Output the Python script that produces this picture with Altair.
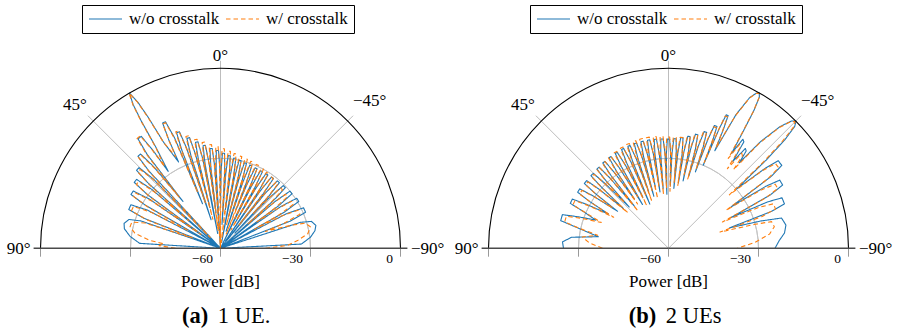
import altair as alt
import pandas as pd

BLUE = "#1f77b4"
ORANGE = "#ff7f0e"
SERIES = ["w/o crosstalk", "w/ crosstalk"]
FONT = "'Liberation Serif', 'DejaVu Serif', 'Times New Roman', serif"

# ---------- beam patterns: (angle in deg, power in dB) ----------
# (a) 1 UE, w/o crosstalk
A_WO = [
    (90.0, -70.0),
    (86.5, -33.0), (82.5, -29.6), (78.5, -27.3), (75.5, -26.8), (72.5, -28.0), (71.0, -32.0),
    (69.6, -62.0),
    (68.6, -32.5), (67.1, -26.8), (64.1, -26.8), (62.4, -32.5),
    (61.0, -60.0),
    (60.2, -31.2), (59.0, -25.2), (56.7, -25.2), (55.3, -31.2),
    (54.3, -64.0),
    (53.7, -29.8), (52.6, -23.8), (50.6, -23.8), (49.4, -29.8),
    (48.6, -58.0),
    (48.0, -27.8), (47.1, -21.8), (45.3, -21.8), (44.1, -27.8),
    (43.4, -66.0),
    (42.8, -24.8), (41.9, -18.8), (40.3, -18.8), (39.3, -24.8),
    (38.7, -40.0),
    (38.0, -20.3), (37.0, -14.3), (35.3, -14.3), (34.6, -20.3),
    (34.2, -29.0),
    (32.6, -20.0), (31.9, -10.0), (31.3, -4.0), (30.4, 0.0), (29.5, -4.0), (28.9, -10.0), (28.2, -20.0),
    (25.9, -28.0),
    (25.5, -20.0), (24.8, -14.0), (23.5, -14.0), (22.6, -20.0),
    (22.0, -44.0),
    (21.5, -24.8), (20.8, -18.8), (19.4, -18.8), (18.7, -24.8),
    (18.2, -50.0),
    (17.7, -27.7), (17.0, -21.7), (15.6, -21.7), (14.9, -27.7),
    (14.5, -46.0),
    (14.0, -29.7), (13.25, -23.7), (11.95, -23.7), (11.2, -29.7),
    (10.8, -55.0),
    (10.35, -31.3), (9.65, -25.3), (8.35, -25.3), (7.65, -31.3),
    (7.2, -48.0),
    (6.75, -32.6), (6.05, -26.6), (4.75, -26.6), (4.05, -32.6),
    (3.6, -60.0),
    (3.15, -33.4), (2.45, -27.4), (1.15, -27.4), (0.45, -33.4),
    (0.0, -45.0),
    (-0.45, -34.3), (-1.15, -28.3), (-2.45, -28.3), (-3.15, -34.3),
    (-3.6, -52.0),
    (-4.05, -35.0), (-4.75, -29.0), (-6.05, -29.0), (-6.75, -35.0),
    (-7.2, -47.0),
    (-7.65, -35.6), (-8.35, -29.6), (-9.65, -29.6), (-10.35, -35.6),
    (-10.8, -58.0),
    (-11.2, -36.0), (-11.95, -30.0), (-13.25, -30.0), (-14.0, -36.0),
    (-14.5, -49.0),
    (-14.9, -36.4), (-15.6, -30.4), (-17.0, -30.4), (-17.7, -36.4),
    (-18.2, -54.0),
    (-18.7, -36.6), (-19.4, -30.6), (-20.8, -30.6), (-21.5, -36.6),
    (-22.0, -46.0),
    (-22.5, -36.8), (-23.3, -30.8), (-24.7, -30.8), (-25.5, -36.8),
    (-25.9, -62.0),
    (-26.5, -36.9), (-27.3, -30.9), (-28.7, -30.9), (-29.5, -36.9),
    (-30.0, -50.0),
    (-30.5, -36.9), (-31.35, -30.9), (-32.85, -30.9), (-33.7, -36.9),
    (-34.2, -57.0),
    (-34.7, -36.8), (-35.6, -30.8), (-37.2, -30.8), (-38.1, -36.8),
    (-38.7, -65.0),
    (-39.1, -36.6), (-40.1, -30.6), (-41.9, -30.6), (-42.9, -36.6),
    (-43.4, -53.0),
    (-44.0, -36.4), (-45.05, -30.4), (-46.95, -30.4), (-48.0, -36.4),
    (-48.6, -66.0),
    (-49.4, -36.0), (-50.55, -30.0), (-52.65, -30.0), (-53.8, -36.0),
    (-54.3, -60.0),
    (-55.3, -35.6), (-56.7, -29.6), (-59.1, -29.6), (-60.5, -35.6),
    (-61.0, -68.0),
    (-62.3, -35.2), (-64.0, -29.2), (-67.0, -29.2), (-68.7, -35.2),
    (-69.6, -63.0),
    (-72.0, -32.0), (-73.5, -28.4), (-76.5, -27.3), (-79.5, -28.0), (-83.0, -29.8), (-87.0, -33.0),
    (-90.0, -70.0),
]

# (a) 1 UE, w/ crosstalk
A_W = [
    (90.0, -45.0), (87.5, -39.5), (85.5, -41.0),
    (83.5, -36.0), (80.0, -31.0), (76.5, -29.0), (73.5, -29.2), (71.5, -33.5),
    (69.8, -50.0),
    (68.8, -33.8), (67.3, -27.8), (64.3, -27.8), (62.6, -33.8),
    (61.2, -48.0),
    (60.4, -32.2), (59.2, -26.2), (56.9, -26.2), (55.5, -32.2),
    (54.5, -52.0),
    (53.9, -30.8), (52.8, -24.8), (50.8, -24.8), (49.6, -30.8),
    (48.8, -46.0),
    (48.2, -28.5), (47.3, -22.5), (45.5, -22.5), (44.3, -28.5),
    (43.6, -55.0),
    (43.0, -25.2), (42.1, -19.2), (40.5, -19.2), (39.5, -25.2),
    (38.9, -38.0),
    (38.2, -20.0), (37.2, -14.0), (35.5, -14.0), (34.8, -20.0),
    (34.4, -27.0),
    (32.7, -20.0), (32.0, -10.0), (31.4, -4.0), (30.5, 0.0), (29.6, -4.0), (29.0, -10.0), (28.3, -20.0),
    (26.0, -26.0),
    (25.6, -20.3), (24.9, -14.3), (23.6, -14.3), (22.8, -20.3),
    (22.2, -40.0),
    (21.7, -24.4), (21.0, -18.4), (19.6, -18.4), (18.9, -24.4),
    (18.4, -44.0),
    (17.9, -27.0), (17.2, -21.0), (15.8, -21.0), (15.1, -27.0),
    (14.7, -50.0),
    (14.2, -28.8), (13.45, -22.8), (12.15, -22.8), (11.4, -28.8),
    (11.0, -42.0),
    (10.55, -30.2), (9.85, -24.2), (8.55, -24.2), (7.85, -30.2),
    (7.4, -54.0),
    (6.95, -31.3), (6.25, -25.3), (4.95, -25.3), (4.25, -31.3),
    (3.8, -62.0),
    (3.35, -32.1), (2.65, -26.1), (1.35, -26.1), (0.65, -32.1),
    (0.2, -64.0),
    (-0.25, -32.8), (-0.95, -26.8), (-2.25, -26.8), (-2.95, -32.8),
    (-3.4, -48.0),
    (-3.85, -33.5), (-4.55, -27.5), (-5.85, -27.5), (-6.55, -33.5),
    (-7.0, -58.0),
    (-7.45, -34.1), (-8.15, -28.1), (-9.45, -28.1), (-10.15, -34.1),
    (-10.6, -45.0),
    (-11.0, -34.6), (-11.75, -28.6), (-13.05, -28.6), (-13.8, -34.6),
    (-14.3, -52.0),
    (-14.7, -35.0), (-15.4, -29.0), (-16.8, -29.0), (-17.5, -35.0),
    (-18.0, -47.0),
    (-18.5, -35.3), (-19.2, -29.3), (-20.6, -29.3), (-21.3, -35.3),
    (-21.8, -55.0),
    (-22.3, -35.6), (-23.1, -29.6), (-24.5, -29.6), (-25.3, -35.6),
    (-25.7, -49.0),
    (-26.3, -36.0), (-27.1, -30.0), (-28.5, -30.0), (-29.3, -36.0),
    (-29.8, -53.0),
    (-30.3, -36.4), (-31.15, -30.4), (-32.65, -30.4), (-33.5, -36.4),
    (-34.0, -46.0),
    (-34.5, -36.8), (-35.4, -30.8), (-37.0, -30.8), (-37.9, -36.8),
    (-38.5, -50.0),
    (-38.9, -37.2), (-39.9, -31.2), (-41.7, -31.2), (-42.7, -37.2),
    (-43.2, -44.0),
    (-43.8, -37.6), (-44.85, -31.6), (-46.75, -31.6), (-47.8, -37.6),
    (-48.4, -48.0),
    (-49.2, -37.8), (-50.35, -31.8), (-52.45, -31.8), (-53.6, -37.8),
    (-54.1, -45.0),
    (-55.1, -37.6), (-56.5, -31.6), (-58.9, -31.6), (-60.3, -37.6),
    (-60.8, -47.0),
    (-62.1, -37.2), (-63.8, -31.2), (-66.8, -31.2), (-68.5, -37.2),
    (-69.4, -44.0),
    (-72.0, -35.0), (-73.5, -30.5), (-76.5, -29.2), (-80.5, -30.5), (-84.0, -34.0), (-87.5, -37.5),
    (-90.0, -45.0),
]

# (b) 2 UEs, w/o crosstalk
B_WO = [
    (90.0, -25.0), (86.5, -24.6), (83.5, -27.5),
    (80.6, -36.3),
    (77.0, -28.0), (75.6, -22.9), (72.4, -22.9), (70.8, -28.0),
    (68.8, -34.0),
    (66.6, -29.0), (65.4, -24.0), (62.9, -24.0), (61.8, -29.0),
    (60.3, -37.0),
    (59.3, -29.4), (58.3, -24.4), (56.2, -24.4), (55.2, -29.4),
    (54.0, -39.0),
    (53.2, -29.6), (52.4, -24.6), (50.4, -24.6), (49.6, -29.6),
    (48.6, -40.0),
    (47.6, -29.6), (46.9, -24.6), (45.1, -24.6), (44.4, -29.6),
    (43.6, -41.0),
    (42.8, -29.4), (42.1, -24.4), (40.5, -24.4), (39.8, -29.4),
    (39.0, -42.0),
    (38.3, -29.1), (37.6, -24.1), (36.2, -24.1), (35.5, -29.1),
    (34.7, -40.0),
    (34.0, -28.9), (33.3, -23.9), (32.1, -23.9), (31.4, -28.9),
    (30.7, -43.0),
    (30.0, -28.7), (29.3, -23.7), (28.1, -23.7), (27.4, -28.7),
    (26.7, -41.0),
    (26.1, -28.5), (25.4, -23.5), (24.2, -23.5), (23.5, -28.5),
    (22.9, -44.0),
    (22.4, -28.4), (21.7, -23.4), (20.5, -23.4), (19.8, -28.4),
    (19.3, -40.0),
    (18.8, -28.3), (18.1, -23.3), (16.9, -23.3), (16.2, -28.3),
    (15.7, -42.0),
    (15.2, -28.3), (14.5, -23.3), (13.3, -23.3), (12.6, -28.3),
    (12.1, -39.0),
    (11.7, -28.3), (11.0, -23.3), (9.8, -23.3), (9.1, -28.3),
    (8.6, -41.0),
    (8.2, -28.4), (7.5, -23.4), (6.3, -23.4), (5.6, -28.4),
    (5.1, -40.0),
    (4.7, -28.5), (4.0, -23.5), (2.8, -23.5), (2.1, -28.5),
    (1.7, -42.0),
    (1.3, -28.6), (0.6, -23.6), (-0.6, -23.6), (-1.3, -28.6),
    (-1.7, -39.0),
    (-2.1, -28.4), (-2.8, -23.4), (-4.0, -23.4), (-4.7, -28.4),
    (-5.1, -40.0),
    (-5.6, -27.9), (-6.3, -22.9), (-7.5, -22.9), (-8.2, -27.9),
    (-8.6, -38.0),
    (-9.1, -27.1), (-9.8, -22.1), (-11.0, -22.1), (-11.7, -27.1),
    (-12.2, -37.0),
    (-12.6, -25.9), (-13.3, -20.9), (-14.5, -20.9), (-15.2, -25.9),
    (-15.7, -35.0),
    (-16.3, -24.3), (-17.0, -19.3), (-18.2, -19.3), (-18.9, -24.3),
    (-19.4, -33.0),
    (-19.9, -21.3), (-20.5, -16.3), (-21.7, -16.3), (-22.3, -21.3),
    (-22.7, -30.0),
    (-23.0, -16.5), (-23.4, -11.5), (-24.2, -11.5), (-24.8, -16.5),
    (-25.4, -24.0),
    (-26.8, -10.0), (-28.3, -3.0), (-29.5, -0.6), (-30.3, 0.0), (-31.0, -1.2), (-31.8, -6.0), (-32.6, -14.0),
    (-33.6, -22.0),
    (-34.3, -16.0), (-35.3, -16.5),
    (-36.5, -24.0),
    (-37.6, -18.0), (-38.6, -18.5),
    (-39.6, -23.0),
    (-40.8, -13.0), (-42.5, -5.0), (-44.0, -1.0), (-45.1, 0.0), (-46.0, -1.5), (-47.0, -7.0), (-47.9, -16.0),
    (-48.9, -30.0),
    (-50.4, -18.2), (-51.4, -13.2), (-53.8, -13.2), (-55.0, -18.2),
    (-56.5, -35.0),
    (-57.5, -21.5), (-58.5, -16.5), (-61.0, -16.5), (-62.3, -21.5),
    (-63.8, -37.0),
    (-64.9, -23.6), (-66.0, -18.6), (-69.0, -18.6), (-70.3, -23.6),
    (-71.5, -38.6),
    (-73.5, -28.0), (-75.0, -21.0), (-78.8, -20.1), (-82.5, -21.0), (-86.0, -23.0),
    (-90.0, -24.5),
]

# (b) 2 UEs, w/ crosstalk
B_W = [
    (90.0, -38.0), (86.0, -33.5), (82.5, -31.0),
    (79.5, -36.0),
    (77.3, -29.3), (75.8, -24.3), (72.6, -24.3), (71.0, -29.3),
    (69.0, -36.0),
    (66.8, -30.0), (65.6, -25.0), (63.0, -25.0), (61.9, -30.0),
    (60.5, -39.0),
    (59.5, -30.3), (58.6, -25.3), (56.2, -25.3), (55.3, -30.3),
    (54.2, -37.0),
    (53.4, -30.2), (52.6, -25.2), (50.5, -25.2), (49.7, -30.2),
    (48.8, -42.0),
    (47.8, -30.0), (47.1, -25.0), (45.2, -25.0), (44.5, -30.0),
    (43.8, -39.0),
    (43.0, -29.6), (42.3, -24.6), (40.6, -24.6), (39.9, -29.6),
    (39.2, -44.0),
    (38.5, -29.2), (37.9, -24.2), (36.2, -24.2), (35.6, -29.2),
    (34.9, -42.0),
    (34.2, -28.8), (33.6, -23.8), (32.1, -23.8), (31.5, -28.8),
    (30.9, -40.0),
    (30.2, -28.4), (29.6, -23.4), (28.1, -23.4), (27.5, -28.4),
    (26.9, -44.0),
    (26.3, -28.0), (25.7, -23.0), (24.2, -23.0), (23.6, -28.0),
    (23.1, -41.0),
    (22.6, -27.7), (22.0, -22.7), (20.5, -22.7), (19.9, -27.7),
    (19.5, -43.0),
    (19.0, -27.5), (18.4, -22.5), (16.9, -22.5), (16.3, -27.5),
    (15.9, -40.0),
    (15.4, -27.4), (14.8, -22.4), (13.3, -22.4), (12.7, -27.4),
    (12.3, -43.0),
    (11.9, -27.4), (11.3, -22.4), (9.8, -22.4), (9.2, -27.4),
    (8.8, -39.0),
    (8.4, -27.5), (7.8, -22.5), (6.3, -22.5), (5.7, -27.5),
    (5.3, -42.0),
    (4.9, -27.7), (4.3, -22.7), (2.8, -22.7), (2.2, -27.7),
    (1.9, -40.0),
    (1.5, -27.9), (0.9, -22.9), (-0.6, -22.9), (-1.2, -27.9),
    (-1.5, -41.0),
    (-1.9, -28.0), (-2.5, -23.0), (-4.0, -23.0), (-4.6, -28.0),
    (-4.9, -38.0),
    (-5.4, -27.8), (-6.0, -22.8), (-7.5, -22.8), (-8.1, -27.8),
    (-8.4, -39.0),
    (-8.9, -27.3), (-9.5, -22.3), (-11.0, -22.3), (-11.6, -27.3),
    (-12.0, -35.0),
    (-12.4, -26.2), (-13.0, -21.2), (-14.5, -21.2), (-15.1, -26.2),
    (-15.5, -36.0),
    (-16.1, -24.6), (-16.7, -19.6), (-18.2, -19.6), (-18.8, -24.6),
    (-19.2, -32.0),
    (-19.7, -21.8), (-20.3, -16.8), (-21.7, -16.8), (-22.2, -21.8),
    (-22.6, -29.0),
    (-22.9, -17.0), (-23.2, -12.0), (-24.2, -12.0), (-24.7, -17.0),
    (-25.3, -23.0),
    (-26.8, -10.5), (-28.3, -3.2), (-29.5, -0.7), (-30.3, -0.1), (-31.0, -1.3), (-31.8, -6.5), (-32.6, -15.0),
    (-33.6, -24.0),
    (-34.4, -18.0), (-35.4, -18.5),
    (-36.5, -27.0),
    (-37.6, -20.0), (-38.6, -20.5),
    (-39.6, -26.0),
    (-40.8, -14.0), (-42.5, -5.5), (-44.0, -1.3), (-45.0, -0.3), (-45.9, -2.0), (-46.8, -8.0), (-47.7, -17.0),
    (-48.7, -33.0),
    (-50.4, -19.5), (-51.6, -14.5), (-53.8, -14.5), (-55.0, -19.5),
    (-56.6, -37.0),
    (-57.8, -23.5), (-59.0, -18.5), (-61.3, -18.5), (-62.6, -23.5),
    (-64.0, -40.0),
    (-65.6, -27.0), (-67.0, -22.0), (-69.8, -22.0), (-71.2, -27.0),
    (-72.5, -42.0),
    (-74.5, -30.0), (-75.5, -24.5), (-78.5, -24.0), (-82.0, -26.0), (-86.0, -31.0),
    (-90.0, -37.0),
]

# ---------- polar frame ----------
R_MIN_DB = -60          # centre of the polar plot
RING_DB = [-30]         # grey grid ring
OUTER_DB = [0]          # outer (black) ring
SPOKE_DEG = [45, 0, -45]
AXIS_DEG = [90, -90]
RADIAL_TICKS = [-60, -30, 0, 30, 60]   # positions along the diameter (dB above -60)
RADIAL_LABELS = ["−60", "−30", "0"]
RADIAL_LABEL_POS = [0, 30, 60]

# ---------- layout (pixels) ----------
H = 334
CX = 220.5
CY = 248.3
PX = 3.0  # pixels per dB


def curve_frame(panel, pairs_wo, pairs_w):
    rows = []
    for series, pairs in ((SERIES[0], pairs_wo), (SERIES[1], pairs_w)):
        for i, (deg, db) in enumerate(pairs):
            rows.append({"panel": panel, "series": series, "i": i, "deg": deg, "db": db})
    return pd.DataFrame(rows)


def make_panel(width, curves, letter, caption):
    xs = alt.Scale(domain=[-CX / PX, (width - CX) / PX], nice=False, zero=False)
    ys = alt.Scale(domain=[-(H - CY) / PX, CY / PX], nice=False, zero=False)
    X = lambda f: alt.X(f, scale=xs, axis=None)
    Y = lambda f: alt.Y(f, scale=ys, axis=None)
    rscale = alt.Scale(type="linear", domain=[0, 60], range=[0, 60 * PX], zero=True)

    def ring(values, color, sw):
        return (
            alt.Chart(pd.DataFrame({"db": values}))
            .transform_calculate(rr=f"datum.db - ({R_MIN_DB})")
            .mark_arc(stroke=color, strokeWidth=sw, fillOpacity=0)
            .encode(
                x=alt.XDatum(0, scale=xs, axis=None),
                y=alt.YDatum(0, scale=ys, axis=None),
                theta=alt.value(4.71238898),
                theta2=alt.value(7.85398163),
                radius=alt.Radius("rr:Q", scale=rscale),
                radius2=alt.Radius2("rr:Q"),
            )
        )

    def spokes(values, length, color, sw):
        return (
            alt.Chart(pd.DataFrame({"deg": values}))
            .transform_calculate(
                x0="0",
                y0="0",
                x1=f"-{length} * sin(datum.deg * PI / 180)",
                y1=f"{length} * cos(datum.deg * PI / 180)",
            )
            .mark_rule(color=color, strokeWidth=sw)
            .encode(x=X("x0:Q"), y=Y("y0:Q"), x2="x1:Q", y2="y1:Q")
        )

    ticks = (
        alt.Chart(pd.DataFrame({"t": RADIAL_TICKS}))
        .mark_rule(color="#9a9a9a", strokeWidth=1)
        .encode(x=X("t:Q"), y=alt.YDatum(0, scale=ys, axis=None), y2=alt.Y2Datum(-2.8))
    )

    legend = alt.Legend(
        title=None,
        orient="none",
        legendX=82,
        legendY=5,
        direction="horizontal",
        symbolType="stroke",
        symbolSize=1089,
        symbolStrokeWidth=1.2,
        clipHeight=16,
        labelFont=FONT,
        labelFontSize=17,
        labelColor="black",
        labelOffset=6,
        columnPadding=5,
        strokeColor="black",
        padding=6,
    )

    lines = (
        alt.Chart(curves)
        .transform_calculate(r=f"max(datum.db, {R_MIN_DB}) - ({R_MIN_DB})")
        .transform_calculate(
            px="-datum.r * sin(datum.deg * PI / 180)",
            py="datum.r * cos(datum.deg * PI / 180)",
        )
        .mark_line(strokeWidth=1.1, strokeJoin="round")
        .encode(
            x=X("px:Q"),
            y=Y("py:Q"),
            color=alt.Color("series:N", scale=alt.Scale(domain=SERIES, range=[BLUE, ORANGE]), legend=legend),
            strokeDash=alt.StrokeDash(
                "series:N", scale=alt.Scale(domain=SERIES, range=[[1, 0], [4.5, 3]]), legend=legend
            ),
            order="i:Q",
        )
    )

    def text(df, align, size, weight="normal", dx=0):
        return (
            alt.Chart(df)
            .mark_text(align=align, baseline="alphabetic", font=FONT, fontSize=size,
                       fontWeight=weight, color="black", dx=dx)
            .encode(x=X("x:Q"), y=Y("y:Q"), text="t:N")
        )

    ang_c = pd.DataFrame({"t": ["0°", "45°", "−45°"], "x": [0.0, -48.5, 49.7], "y": [62.5, 46.1, 47.4]})
    ang_l = pd.DataFrame({"t": ["90°"], "x": [-63.3], "y": [-1.9]})
    ang_r = pd.DataFrame({"t": ["−90°"], "x": [63.5], "y": [-1.75]})
    rad = pd.DataFrame({"t": RADIAL_LABELS, "x": RADIAL_LABEL_POS, "y": [-5.0] * 3})
    title = pd.DataFrame({"t": ["Power [dB]"], "x": [0.0], "y": [-12.8]})
    cap_l = pd.DataFrame({"t": [letter], "x": [-4.1], "y": [-25.0]})
    cap_r = pd.DataFrame({"t": [caption], "x": [-0.9], "y": [-25.0]})

    return alt.layer(
        ring(RING_DB, "#c4c4c4", 1),
        spokes(SPOKE_DEG, 62.5, "#bdbdbd", 1),
        ticks,
        lines,
        ring(OUTER_DB, "black", 1.1),
        spokes(AXIS_DEG, 62.3, "#4a4a4a", 1.4),
        text(ang_c, "center", 17),
        text(ang_l, "right", 17),
        text(ang_r, "left", 17),
        text(rad, "right", 13.5, dx=-7.5),
        text(title, "center", 17),
        text(cap_l, "right", 22.5, weight="bold"),
        text(cap_r, "left", 22.5),
    ).properties(width=width, height=H)


pa = make_panel(448, curve_frame("a", A_WO, A_W), "(a)", "1 UE.")
pb = make_panel(449, curve_frame("b", B_WO, B_W), "(b)", "2 UEs")

chart = (
    alt.hconcat(pa, pb, spacing=0)
    .resolve_legend(color="independent", strokeDash="independent")
    .properties(padding=0, background="white")
    .configure_view(stroke=None)
)

chart.save("out.html", embed_options={"renderer": "svg", "actions": False})
